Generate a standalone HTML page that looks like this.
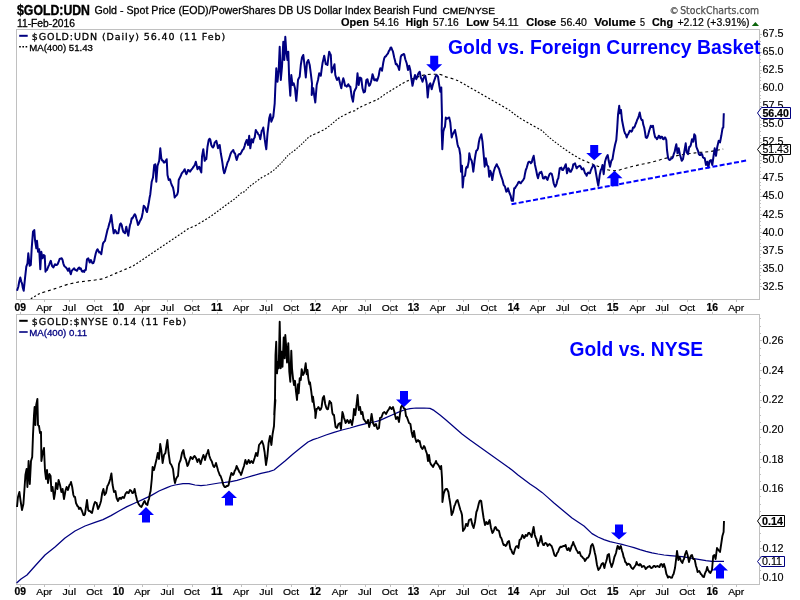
<!DOCTYPE html>
<html lang="en"><head><meta charset="utf-8"><title>$GOLD:UDN - StockCharts.com</title>
<style>html,body{margin:0;padding:0;background:#fff;overflow:hidden}body{width:800px;height:600px;font-family:"Liberation Sans",Arial,sans-serif}</style>
</head><body>
<svg width="800" height="600" viewBox="0 0 800 600" style="display:block;will-change:transform" font-family="Liberation Sans, Arial, Helvetica, sans-serif">
<rect x="0" y="0" width="800" height="600" fill="#fff"/>
<rect x="16.5" y="29.5" width="743.0" height="270.0" fill="none" stroke="#c0c0c0" stroke-width="1"/>
<rect x="16.5" y="314.5" width="743.0" height="270.0" fill="none" stroke="#c0c0c0" stroke-width="1"/>
<path d="M20.5 299.5v2.5 M20.5 314.5v-2.5 M20.5 584.5v2.5 M44.5 299.5v2.5 M44.5 314.5v-2.5 M44.5 584.5v2.5 M69.5 299.5v2.5 M69.5 314.5v-2.5 M69.5 584.5v2.5 M94.5 299.5v2.5 M94.5 314.5v-2.5 M94.5 584.5v2.5 M118.5 299.5v2.5 M118.5 314.5v-2.5 M118.5 584.5v2.5 M142.5 299.5v2.5 M142.5 314.5v-2.5 M142.5 584.5v2.5 M167.5 299.5v2.5 M167.5 314.5v-2.5 M167.5 584.5v2.5 M192.5 299.5v2.5 M192.5 314.5v-2.5 M192.5 584.5v2.5 M217.5 299.5v2.5 M217.5 314.5v-2.5 M217.5 584.5v2.5 M241.5 299.5v2.5 M241.5 314.5v-2.5 M241.5 584.5v2.5 M266.5 299.5v2.5 M266.5 314.5v-2.5 M266.5 584.5v2.5 M291.5 299.5v2.5 M291.5 314.5v-2.5 M291.5 584.5v2.5 M315.5 299.5v2.5 M315.5 314.5v-2.5 M315.5 584.5v2.5 M340.5 299.5v2.5 M340.5 314.5v-2.5 M340.5 584.5v2.5 M365.5 299.5v2.5 M365.5 314.5v-2.5 M365.5 584.5v2.5 M390.5 299.5v2.5 M390.5 314.5v-2.5 M390.5 584.5v2.5 M413.5 299.5v2.5 M413.5 314.5v-2.5 M413.5 584.5v2.5 M438.5 299.5v2.5 M438.5 314.5v-2.5 M438.5 584.5v2.5 M463.5 299.5v2.5 M463.5 314.5v-2.5 M463.5 584.5v2.5 M488.5 299.5v2.5 M488.5 314.5v-2.5 M488.5 584.5v2.5 M513.5 299.5v2.5 M513.5 314.5v-2.5 M513.5 584.5v2.5 M538.5 299.5v2.5 M538.5 314.5v-2.5 M538.5 584.5v2.5 M563.5 299.5v2.5 M563.5 314.5v-2.5 M563.5 584.5v2.5 M588.5 299.5v2.5 M588.5 314.5v-2.5 M588.5 584.5v2.5 M613.5 299.5v2.5 M613.5 314.5v-2.5 M613.5 584.5v2.5 M637.5 299.5v2.5 M637.5 314.5v-2.5 M637.5 584.5v2.5 M662.5 299.5v2.5 M662.5 314.5v-2.5 M662.5 584.5v2.5 M687.5 299.5v2.5 M687.5 314.5v-2.5 M687.5 584.5v2.5 M712.5 299.5v2.5 M712.5 314.5v-2.5 M712.5 584.5v2.5 M736.5 299.5v2.5 M736.5 314.5v-2.5 M736.5 584.5v2.5 M759.5 286.5h2.5 M759.5 283.5h1.5 M759.5 279.5h1.5 M759.5 275.5h1.5 M759.5 272.5h1.5 M759.5 268.5h2.5 M759.5 265.5h1.5 M759.5 261.5h1.5 M759.5 257.5h1.5 M759.5 254.5h1.5 M759.5 250.5h2.5 M759.5 246.5h1.5 M759.5 243.5h1.5 M759.5 239.5h1.5 M759.5 236.5h1.5 M759.5 232.5h2.5 M759.5 228.5h1.5 M759.5 225.5h1.5 M759.5 221.5h1.5 M759.5 218.5h1.5 M759.5 214.5h2.5 M759.5 210.5h1.5 M759.5 207.5h1.5 M759.5 203.5h1.5 M759.5 200.5h1.5 M759.5 196.5h2.5 M759.5 192.5h1.5 M759.5 189.5h1.5 M759.5 185.5h1.5 M759.5 182.5h1.5 M759.5 178.5h2.5 M759.5 174.5h1.5 M759.5 171.5h1.5 M759.5 167.5h1.5 M759.5 163.5h1.5 M759.5 160.5h2.5 M759.5 156.5h1.5 M759.5 153.5h1.5 M759.5 149.5h1.5 M759.5 145.5h1.5 M759.5 142.5h2.5 M759.5 138.5h1.5 M759.5 135.5h1.5 M759.5 131.5h1.5 M759.5 127.5h1.5 M759.5 124.5h2.5 M759.5 120.5h1.5 M759.5 117.5h1.5 M759.5 113.5h1.5 M759.5 109.5h1.5 M759.5 106.5h2.5 M759.5 102.5h1.5 M759.5 98.5h1.5 M759.5 95.5h1.5 M759.5 91.5h1.5 M759.5 88.5h2.5 M759.5 84.5h1.5 M759.5 80.5h1.5 M759.5 77.5h1.5 M759.5 73.5h1.5 M759.5 70.5h2.5 M759.5 66.5h1.5 M759.5 62.5h1.5 M759.5 59.5h1.5 M759.5 55.5h1.5 M759.5 52.5h2.5 M759.5 48.5h1.5 M759.5 44.5h1.5 M759.5 41.5h1.5 M759.5 37.5h1.5 M759.5 34.5h2.5 M759.5 578.5h2.5 M759.5 570.5h1.5 M759.5 563.5h1.5 M759.5 556.5h1.5 M759.5 548.5h2.5 M759.5 541.5h1.5 M759.5 533.5h1.5 M759.5 526.5h1.5 M759.5 518.5h2.5 M759.5 511.5h1.5 M759.5 504.5h1.5 M759.5 496.5h1.5 M759.5 489.5h2.5 M759.5 481.5h1.5 M759.5 474.5h1.5 M759.5 467.5h1.5 M759.5 459.5h2.5 M759.5 452.5h1.5 M759.5 444.5h1.5 M759.5 437.5h1.5 M759.5 429.5h2.5 M759.5 422.5h1.5 M759.5 415.5h1.5 M759.5 407.5h1.5 M759.5 400.5h2.5 M759.5 392.5h1.5 M759.5 385.5h1.5 M759.5 378.5h1.5 M759.5 370.5h2.5 M759.5 363.5h1.5 M759.5 355.5h1.5 M759.5 348.5h1.5 M759.5 340.5h2.5 M759.5 333.5h1.5 M759.5 326.5h1.5 M759.5 318.5h1.5" stroke="#c0c0c0" stroke-width="1" fill="none"/>
<text x="762.5" y="289.7" font-size="10" stroke="#000" stroke-width="0.15" textLength="21" lengthAdjust="spacingAndGlyphs">32.5</text>
<text x="762.5" y="271.6" font-size="10" stroke="#000" stroke-width="0.15" textLength="21" lengthAdjust="spacingAndGlyphs">35.0</text>
<text x="762.5" y="253.6" font-size="10" stroke="#000" stroke-width="0.15" textLength="21" lengthAdjust="spacingAndGlyphs">37.5</text>
<text x="762.5" y="235.5" font-size="10" stroke="#000" stroke-width="0.15" textLength="21" lengthAdjust="spacingAndGlyphs">40.0</text>
<text x="762.5" y="217.5" font-size="10" stroke="#000" stroke-width="0.15" textLength="21" lengthAdjust="spacingAndGlyphs">42.5</text>
<text x="762.5" y="199.4" font-size="10" stroke="#000" stroke-width="0.15" textLength="21" lengthAdjust="spacingAndGlyphs">45.0</text>
<text x="762.5" y="181.4" font-size="10" stroke="#000" stroke-width="0.15" textLength="21" lengthAdjust="spacingAndGlyphs">47.5</text>
<text x="762.5" y="163.3" font-size="10" stroke="#000" stroke-width="0.15" textLength="21" lengthAdjust="spacingAndGlyphs">50.0</text>
<text x="762.5" y="145.3" font-size="10" stroke="#000" stroke-width="0.15" textLength="21" lengthAdjust="spacingAndGlyphs">52.5</text>
<text x="762.5" y="127.2" font-size="10" stroke="#000" stroke-width="0.15" textLength="21" lengthAdjust="spacingAndGlyphs">55.0</text>
<text x="762.5" y="109.2" font-size="10" stroke="#000" stroke-width="0.15" textLength="21" lengthAdjust="spacingAndGlyphs">57.5</text>
<text x="762.5" y="91.2" font-size="10" stroke="#000" stroke-width="0.15" textLength="21" lengthAdjust="spacingAndGlyphs">60.0</text>
<text x="762.5" y="73.1" font-size="10" stroke="#000" stroke-width="0.15" textLength="21" lengthAdjust="spacingAndGlyphs">62.5</text>
<text x="762.5" y="55.0" font-size="10" stroke="#000" stroke-width="0.15" textLength="21" lengthAdjust="spacingAndGlyphs">65.0</text>
<text x="762.5" y="37.0" font-size="10" stroke="#000" stroke-width="0.15" textLength="21" lengthAdjust="spacingAndGlyphs">67.5</text>
<text x="762.5" y="581.3" font-size="10" stroke="#000" stroke-width="0.15" textLength="21" lengthAdjust="spacingAndGlyphs">0.10</text>
<text x="762.5" y="551.6" font-size="10" stroke="#000" stroke-width="0.15" textLength="21" lengthAdjust="spacingAndGlyphs">0.12</text>
<text x="762.5" y="492.3" font-size="10" stroke="#000" stroke-width="0.15" textLength="21" lengthAdjust="spacingAndGlyphs">0.16</text>
<text x="762.5" y="462.6" font-size="10" stroke="#000" stroke-width="0.15" textLength="21" lengthAdjust="spacingAndGlyphs">0.18</text>
<text x="762.5" y="433.0" font-size="10" stroke="#000" stroke-width="0.15" textLength="21" lengthAdjust="spacingAndGlyphs">0.20</text>
<text x="762.5" y="403.3" font-size="10" stroke="#000" stroke-width="0.15" textLength="21" lengthAdjust="spacingAndGlyphs">0.22</text>
<text x="762.5" y="373.7" font-size="10" stroke="#000" stroke-width="0.15" textLength="21" lengthAdjust="spacingAndGlyphs">0.24</text>
<text x="762.5" y="344.0" font-size="10" stroke="#000" stroke-width="0.15" textLength="21" lengthAdjust="spacingAndGlyphs">0.26</text>
<text x="14.5" y="310.8" font-size="10" font-weight="bold" stroke="#000" stroke-width="0.2" textLength="11.5" lengthAdjust="spacingAndGlyphs">09</text>
<text x="44.3" y="310.8" font-size="9.8" stroke="#000" stroke-width="0.2" text-anchor="middle" textLength="16" lengthAdjust="spacingAndGlyphs">Apr</text>
<text x="69.3" y="310.8" font-size="9.8" stroke="#000" stroke-width="0.2" text-anchor="middle" textLength="13.5" lengthAdjust="spacingAndGlyphs">Jul</text>
<text x="94.3" y="310.8" font-size="9.8" stroke="#000" stroke-width="0.2" text-anchor="middle" textLength="16" lengthAdjust="spacingAndGlyphs">Oct</text>
<text x="118.5" y="310.8" font-size="10" font-weight="bold" stroke="#000" stroke-width="0.2" text-anchor="middle" textLength="11.5" lengthAdjust="spacingAndGlyphs">10</text>
<text x="142.3" y="310.8" font-size="9.8" stroke="#000" stroke-width="0.2" text-anchor="middle" textLength="16" lengthAdjust="spacingAndGlyphs">Apr</text>
<text x="167.3" y="310.8" font-size="9.8" stroke="#000" stroke-width="0.2" text-anchor="middle" textLength="13.5" lengthAdjust="spacingAndGlyphs">Jul</text>
<text x="191.8" y="310.8" font-size="9.8" stroke="#000" stroke-width="0.2" text-anchor="middle" textLength="16" lengthAdjust="spacingAndGlyphs">Oct</text>
<text x="216.8" y="310.8" font-size="10" font-weight="bold" stroke="#000" stroke-width="0.2" text-anchor="middle" textLength="11.5" lengthAdjust="spacingAndGlyphs">11</text>
<text x="241.1" y="310.8" font-size="9.8" stroke="#000" stroke-width="0.2" text-anchor="middle" textLength="16" lengthAdjust="spacingAndGlyphs">Apr</text>
<text x="266.1" y="310.8" font-size="9.8" stroke="#000" stroke-width="0.2" text-anchor="middle" textLength="13.5" lengthAdjust="spacingAndGlyphs">Jul</text>
<text x="291.1" y="310.8" font-size="9.8" stroke="#000" stroke-width="0.2" text-anchor="middle" textLength="16" lengthAdjust="spacingAndGlyphs">Oct</text>
<text x="315.3" y="310.8" font-size="10" font-weight="bold" stroke="#000" stroke-width="0.2" text-anchor="middle" textLength="11.5" lengthAdjust="spacingAndGlyphs">12</text>
<text x="339.8" y="310.8" font-size="9.8" stroke="#000" stroke-width="0.2" text-anchor="middle" textLength="16" lengthAdjust="spacingAndGlyphs">Apr</text>
<text x="364.8" y="310.8" font-size="9.8" stroke="#000" stroke-width="0.2" text-anchor="middle" textLength="13.5" lengthAdjust="spacingAndGlyphs">Jul</text>
<text x="389.8" y="310.8" font-size="9.8" stroke="#000" stroke-width="0.2" text-anchor="middle" textLength="16" lengthAdjust="spacingAndGlyphs">Oct</text>
<text x="413.6" y="310.8" font-size="10" font-weight="bold" stroke="#000" stroke-width="0.2" text-anchor="middle" textLength="11.5" lengthAdjust="spacingAndGlyphs">13</text>
<text x="437.8" y="310.8" font-size="9.8" stroke="#000" stroke-width="0.2" text-anchor="middle" textLength="16" lengthAdjust="spacingAndGlyphs">Apr</text>
<text x="462.8" y="310.8" font-size="9.8" stroke="#000" stroke-width="0.2" text-anchor="middle" textLength="13.5" lengthAdjust="spacingAndGlyphs">Jul</text>
<text x="488.6" y="310.8" font-size="9.8" stroke="#000" stroke-width="0.2" text-anchor="middle" textLength="16" lengthAdjust="spacingAndGlyphs">Oct</text>
<text x="513.5" y="310.8" font-size="10" font-weight="bold" stroke="#000" stroke-width="0.2" text-anchor="middle" textLength="11.5" lengthAdjust="spacingAndGlyphs">14</text>
<text x="537.8" y="310.8" font-size="9.8" stroke="#000" stroke-width="0.2" text-anchor="middle" textLength="16" lengthAdjust="spacingAndGlyphs">Apr</text>
<text x="562.8" y="310.8" font-size="9.8" stroke="#000" stroke-width="0.2" text-anchor="middle" textLength="13.5" lengthAdjust="spacingAndGlyphs">Jul</text>
<text x="588.2" y="310.8" font-size="9.8" stroke="#000" stroke-width="0.2" text-anchor="middle" textLength="16" lengthAdjust="spacingAndGlyphs">Oct</text>
<text x="612.8" y="310.8" font-size="10" font-weight="bold" stroke="#000" stroke-width="0.2" text-anchor="middle" textLength="11.5" lengthAdjust="spacingAndGlyphs">15</text>
<text x="637.4" y="310.8" font-size="9.8" stroke="#000" stroke-width="0.2" text-anchor="middle" textLength="16" lengthAdjust="spacingAndGlyphs">Apr</text>
<text x="662.2" y="310.8" font-size="9.8" stroke="#000" stroke-width="0.2" text-anchor="middle" textLength="13.5" lengthAdjust="spacingAndGlyphs">Jul</text>
<text x="687.2" y="310.8" font-size="9.8" stroke="#000" stroke-width="0.2" text-anchor="middle" textLength="16" lengthAdjust="spacingAndGlyphs">Oct</text>
<text x="712.2" y="310.8" font-size="10" font-weight="bold" stroke="#000" stroke-width="0.2" text-anchor="middle" textLength="11.5" lengthAdjust="spacingAndGlyphs">16</text>
<text x="736.2" y="310.8" font-size="9.8" stroke="#000" stroke-width="0.2" text-anchor="middle" textLength="16" lengthAdjust="spacingAndGlyphs">Apr</text>
<text x="14.5" y="595.2" font-size="10" font-weight="bold" stroke="#000" stroke-width="0.2" textLength="11.5" lengthAdjust="spacingAndGlyphs">09</text>
<text x="44.3" y="595.2" font-size="9.8" stroke="#000" stroke-width="0.2" text-anchor="middle" textLength="16" lengthAdjust="spacingAndGlyphs">Apr</text>
<text x="69.3" y="595.2" font-size="9.8" stroke="#000" stroke-width="0.2" text-anchor="middle" textLength="13.5" lengthAdjust="spacingAndGlyphs">Jul</text>
<text x="94.3" y="595.2" font-size="9.8" stroke="#000" stroke-width="0.2" text-anchor="middle" textLength="16" lengthAdjust="spacingAndGlyphs">Oct</text>
<text x="118.5" y="595.2" font-size="10" font-weight="bold" stroke="#000" stroke-width="0.2" text-anchor="middle" textLength="11.5" lengthAdjust="spacingAndGlyphs">10</text>
<text x="142.3" y="595.2" font-size="9.8" stroke="#000" stroke-width="0.2" text-anchor="middle" textLength="16" lengthAdjust="spacingAndGlyphs">Apr</text>
<text x="167.3" y="595.2" font-size="9.8" stroke="#000" stroke-width="0.2" text-anchor="middle" textLength="13.5" lengthAdjust="spacingAndGlyphs">Jul</text>
<text x="191.8" y="595.2" font-size="9.8" stroke="#000" stroke-width="0.2" text-anchor="middle" textLength="16" lengthAdjust="spacingAndGlyphs">Oct</text>
<text x="216.8" y="595.2" font-size="10" font-weight="bold" stroke="#000" stroke-width="0.2" text-anchor="middle" textLength="11.5" lengthAdjust="spacingAndGlyphs">11</text>
<text x="241.1" y="595.2" font-size="9.8" stroke="#000" stroke-width="0.2" text-anchor="middle" textLength="16" lengthAdjust="spacingAndGlyphs">Apr</text>
<text x="266.1" y="595.2" font-size="9.8" stroke="#000" stroke-width="0.2" text-anchor="middle" textLength="13.5" lengthAdjust="spacingAndGlyphs">Jul</text>
<text x="291.1" y="595.2" font-size="9.8" stroke="#000" stroke-width="0.2" text-anchor="middle" textLength="16" lengthAdjust="spacingAndGlyphs">Oct</text>
<text x="315.3" y="595.2" font-size="10" font-weight="bold" stroke="#000" stroke-width="0.2" text-anchor="middle" textLength="11.5" lengthAdjust="spacingAndGlyphs">12</text>
<text x="339.8" y="595.2" font-size="9.8" stroke="#000" stroke-width="0.2" text-anchor="middle" textLength="16" lengthAdjust="spacingAndGlyphs">Apr</text>
<text x="364.8" y="595.2" font-size="9.8" stroke="#000" stroke-width="0.2" text-anchor="middle" textLength="13.5" lengthAdjust="spacingAndGlyphs">Jul</text>
<text x="389.8" y="595.2" font-size="9.8" stroke="#000" stroke-width="0.2" text-anchor="middle" textLength="16" lengthAdjust="spacingAndGlyphs">Oct</text>
<text x="413.6" y="595.2" font-size="10" font-weight="bold" stroke="#000" stroke-width="0.2" text-anchor="middle" textLength="11.5" lengthAdjust="spacingAndGlyphs">13</text>
<text x="437.8" y="595.2" font-size="9.8" stroke="#000" stroke-width="0.2" text-anchor="middle" textLength="16" lengthAdjust="spacingAndGlyphs">Apr</text>
<text x="462.8" y="595.2" font-size="9.8" stroke="#000" stroke-width="0.2" text-anchor="middle" textLength="13.5" lengthAdjust="spacingAndGlyphs">Jul</text>
<text x="488.6" y="595.2" font-size="9.8" stroke="#000" stroke-width="0.2" text-anchor="middle" textLength="16" lengthAdjust="spacingAndGlyphs">Oct</text>
<text x="513.5" y="595.2" font-size="10" font-weight="bold" stroke="#000" stroke-width="0.2" text-anchor="middle" textLength="11.5" lengthAdjust="spacingAndGlyphs">14</text>
<text x="537.8" y="595.2" font-size="9.8" stroke="#000" stroke-width="0.2" text-anchor="middle" textLength="16" lengthAdjust="spacingAndGlyphs">Apr</text>
<text x="562.8" y="595.2" font-size="9.8" stroke="#000" stroke-width="0.2" text-anchor="middle" textLength="13.5" lengthAdjust="spacingAndGlyphs">Jul</text>
<text x="588.2" y="595.2" font-size="9.8" stroke="#000" stroke-width="0.2" text-anchor="middle" textLength="16" lengthAdjust="spacingAndGlyphs">Oct</text>
<text x="612.8" y="595.2" font-size="10" font-weight="bold" stroke="#000" stroke-width="0.2" text-anchor="middle" textLength="11.5" lengthAdjust="spacingAndGlyphs">15</text>
<text x="637.4" y="595.2" font-size="9.8" stroke="#000" stroke-width="0.2" text-anchor="middle" textLength="16" lengthAdjust="spacingAndGlyphs">Apr</text>
<text x="662.2" y="595.2" font-size="9.8" stroke="#000" stroke-width="0.2" text-anchor="middle" textLength="13.5" lengthAdjust="spacingAndGlyphs">Jul</text>
<text x="687.2" y="595.2" font-size="9.8" stroke="#000" stroke-width="0.2" text-anchor="middle" textLength="16" lengthAdjust="spacingAndGlyphs">Oct</text>
<text x="712.2" y="595.2" font-size="10" font-weight="bold" stroke="#000" stroke-width="0.2" text-anchor="middle" textLength="11.5" lengthAdjust="spacingAndGlyphs">16</text>
<text x="736.2" y="595.2" font-size="9.8" stroke="#000" stroke-width="0.2" text-anchor="middle" textLength="16" lengthAdjust="spacingAndGlyphs">Apr</text>
<path d="M30.8 298.7L32.5 297.7M34.2 296.7L35.9 295.7M37.8 294.6L39.8 293.4M42.3 292.6L45.2 291.8M48.0 290.9L50.8 290.0M53.6 289.1L56.3 288.2M59.2 287.2L62.0 286.3M64.7 285.4L67.6 284.4M70.4 283.7L73.3 283.1M76.2 282.5L79.0 281.9M82.0 281.6L84.9 281.2M87.8 280.9L90.8 280.5M93.7 280.2L96.7 279.8M99.6 279.4L102.4 278.9M105.2 277.7L107.7 276.7M110.1 275.7L112.5 274.7M114.9 273.6L117.3 272.6M119.6 271.7L122.0 270.7M124.4 269.6L126.8 268.7M129.1 267.7L131.2 266.7M133.1 265.9L134.8 264.8M136.4 263.8L138.0 262.7M139.5 261.7L140.9 260.7M142.4 259.7L143.9 258.7M145.4 257.7L146.9 256.7M148.3 255.7L149.8 254.7M151.3 253.7L152.7 252.7M154.2 251.7L155.7 250.7M157.2 249.7L158.6 248.7M160.1 247.7L161.6 246.7M163.1 245.7L164.6 244.7M166.1 243.7L167.5 242.7M169.0 241.7L170.5 240.7M172.0 239.7L173.5 238.7M175.0 237.7L176.4 236.7M177.9 235.7L179.4 234.7M180.9 233.7L182.4 232.7M183.9 231.7L185.3 230.7M186.9 229.6L188.7 228.5M190.6 227.7L192.7 226.8M194.8 225.9L196.7 224.9M198.5 223.8L200.3 222.8M202.0 221.8L203.7 220.8M205.3 219.8L206.9 218.8M208.5 217.9L210.0 216.8M211.5 215.8L212.9 214.8M214.3 213.8L215.7 212.8M217.0 211.8L218.4 210.8M219.7 209.8L221.0 208.8M222.4 207.8L223.8 206.8M225.0 205.8L226.4 204.8M227.8 203.8L229.2 202.8M230.6 201.8L232.0 200.8M233.3 199.9L234.6 199.0M235.8 197.9L236.9 196.9M238.0 195.9L239.2 194.8M240.5 193.6L241.7 192.5M243.1 192.1L244.7 191.7M245.7 190.5L246.7 189.3M247.7 188.2L248.8 187.1M250.0 186.2L251.2 185.3M252.5 184.4L253.9 183.3M255.2 182.4L256.5 181.4M257.9 180.3L259.3 179.3M260.7 178.2L262.2 177.2M264.0 176.3L265.7 175.5M267.5 174.6L269.1 173.6M270.5 172.5L271.9 171.5M273.2 170.6L274.4 169.6M275.6 168.6L276.6 167.5M277.6 166.5L278.7 165.5M279.6 164.6L280.6 163.6M281.6 162.6L282.5 161.5M283.4 160.6L284.3 159.5M285.2 158.5L286.1 157.5M287.1 156.4L288.0 155.4M289.1 154.4L290.3 153.5M291.5 152.6L292.8 151.6M294.1 150.7L295.4 149.7M296.6 148.6L297.7 147.6M298.9 146.6L300.0 145.6M301.1 144.6L302.2 143.7M303.2 142.6L304.2 141.6M305.2 140.6L306.3 139.6M307.3 138.5L308.5 137.4M309.9 136.5L311.4 135.5M313.2 134.7L315.4 133.8M317.5 132.9L319.7 131.8M321.7 130.8L323.5 129.9M325.2 129.0L326.7 127.9M328.1 126.9L329.4 125.9M330.7 124.9L332.0 123.9M333.1 122.9L334.3 121.8M335.5 120.8L336.7 119.7M338.0 118.7L339.4 117.8M341.1 116.8L342.7 115.9M344.6 114.9L346.5 113.9M348.6 112.9L350.9 111.7M353.1 111.1L355.2 110.7M356.8 109.3L358.4 108.0M360.3 107.1L362.2 106.3M364.4 105.3L366.6 104.3M368.8 103.3L371.0 102.3M373.3 101.3L375.5 100.4M377.4 99.6L379.1 98.6M380.6 97.5L382.0 96.4M383.4 95.4L384.8 94.3M386.4 93.3L387.8 92.4M389.4 91.4L391.1 90.4M392.6 89.4L394.2 88.4M395.9 87.4L397.5 86.4M399.1 85.4L400.9 84.4M402.6 83.4L404.6 82.3M406.6 81.3L408.8 80.4M411.2 79.4L413.7 78.4M416.5 77.4L419.2 76.4M422.0 75.6L424.8 74.7M427.8 74.5L430.8 74.2M433.7 74.2L436.6 74.2M439.5 74.3L442.4 75.1M444.9 76.6L447.7 77.4M450.6 78.1L453.4 79.0M456.0 80.0L458.2 80.8M460.3 81.9L462.1 83.0M463.9 84.0L465.6 85.0M467.3 86.0L469.1 87.0M470.8 88.0L472.5 89.0M474.4 90.0L476.1 91.0M477.8 92.0L479.6 93.0M481.3 94.0L483.0 95.0M484.8 96.0L486.5 97.0M488.3 98.0L490.0 99.0M491.7 100.0L493.5 101.0M495.3 102.0L497.0 103.0M498.8 104.0L500.5 105.0M502.2 106.0L504.0 107.0M505.7 108.0L507.3 108.9M508.9 109.9L510.3 110.9M511.6 112.0L513.0 113.0M514.2 114.0L515.6 115.1M517.0 116.0L518.4 117.0M519.9 118.0L521.5 119.1M523.2 120.0L524.8 121.0M526.6 122.0L528.3 123.0M530.1 124.0L531.9 125.0M533.7 125.9L535.5 127.0M537.4 128.0L539.0 128.9M540.5 129.7L542.0 130.6M543.1 131.7L544.3 132.8M545.4 133.9L546.4 134.9M547.5 135.9L548.6 136.9M549.8 137.9L551.1 138.9M552.3 139.9L553.6 140.9M554.8 141.9L556.1 142.8M557.5 143.9L558.8 144.8M560.1 145.9L561.5 146.9M562.9 147.9L564.3 148.8M565.7 149.8L567.2 150.9M568.7 151.9L570.2 152.8M571.8 153.9L573.5 154.9M575.1 155.9L576.8 156.8M578.5 157.9L580.4 158.9M582.3 159.9L584.4 160.8M586.8 161.8L589.3 162.9M591.8 163.8L594.2 164.7M596.6 165.7L599.1 166.8M601.6 168.0L604.4 168.8M607.2 169.7L610.1 170.3M613.0 170.8L615.9 170.6M618.8 170.2L621.7 169.3M624.5 168.5L627.4 167.7M630.2 167.0L633.0 166.3M636.0 165.6L638.8 164.9M641.7 164.3L644.6 163.7M647.5 163.1L650.4 162.5M653.2 161.8L656.1 161.0M658.9 160.2L661.7 159.3M664.5 158.5L667.4 157.9M670.3 157.3L673.2 156.6M676.1 155.9L678.9 155.2M681.8 154.7L684.7 154.2M687.7 153.8L690.6 153.5M693.6 153.1L696.4 152.7M699.3 152.4L702.4 152.2M705.3 152.0L708.2 151.7M711.2 151.4L714.1 150.9M716.9 150.3L719.8 149.7M722.7 149.1L723.2 149.0" fill="none" stroke="#000" stroke-width="1.15"/>
<polyline points="17.0,290.8 18.3,286.7 19.3,281.2 20.3,277.5 21.2,281.3 22.0,283.3 22.8,287.7 23.7,290.8 25.0,278.3 26.3,266.7 27.5,263.3 28.3,253.3 29.7,265.8 30.8,265.0 31.7,248.3 33.0,231.7 34.3,230.0 35.0,240.0 36.3,248.3 37.0,240.8 38.0,251.7 39.2,249.2 40.3,269.2 41.3,251.7 42.5,258.3 43.7,255.0 44.7,255.8 45.5,271.7 46.2,270.2 47.0,270.0 48.3,266.7 49.2,264.6 50.0,262.5 50.8,260.8 52.0,265.8 53.3,267.5 54.2,265.7 55.0,264.2 55.8,264.9 56.7,265.0 57.7,264.0 58.7,261.7 59.5,259.2 60.3,258.7 61.7,258.3 62.5,259.7 63.3,263.3 64.2,265.8 65.0,266.7 65.8,267.3 66.7,268.3 68.0,270.8 69.2,268.3 70.0,271.9 70.8,274.2 71.7,270.9 72.5,270.0 73.3,269.0 74.2,268.3 75.0,269.7 75.8,270.0 77.0,270.8 78.1,268.5 79.2,267.5 80.0,269.0 80.8,268.3 81.7,271.0 82.5,271.7 83.3,270.7 84.2,272.0 85.0,269.9 85.8,270.0 87.0,259.2 88.3,258.3 89.7,262.5 90.8,260.0 91.7,261.8 92.5,263.3 93.3,263.1 94.2,260.8 95.0,256.8 95.8,253.3 96.7,250.6 97.5,249.2 98.3,250.6 99.2,252.5 100.2,252.2 101.3,254.2 102.2,248.1 103.0,243.3 104.0,241.9 105.0,240.8 105.8,237.1 106.7,233.3 107.5,229.8 108.3,227.5 109.2,223.9 110.0,221.7 111.3,215.0 112.5,225.0 113.7,233.3 115.0,230.0 115.8,231.0 116.7,233.3 117.5,233.2 118.3,233.3 119.2,228.2 120.0,224.2 120.8,223.4 121.7,225.0 122.5,229.1 123.3,231.7 124.2,232.6 125.0,233.3 126.3,226.7 127.3,231.6 128.3,235.8 129.2,229.7 130.0,225.0 130.8,222.8 131.7,218.3 132.5,218.4 133.3,216.7 134.7,214.2 135.5,215.3 136.3,218.3 137.2,221.3 138.0,225.0 139.0,223.4 140.0,220.8 140.8,219.7 141.7,217.5 142.7,212.7 143.7,205.8 144.5,206.5 145.3,207.5 146.2,210.5 147.0,212.0 147.8,208.1 148.7,203.3 149.5,198.3 150.3,194.2 151.7,181.7 153.0,177.5 154.2,165.0 155.3,164.2 156.3,181.7 157.5,165.8 158.3,163.5 159.2,160.8 160.3,148.3 161.3,158.3 162.2,160.5 163.0,160.8 163.8,162.5 164.7,162.5 165.7,160.8 166.7,159.2 167.5,175.0 168.7,180.0 170.0,179.2 170.8,182.3 171.7,185.0 173.0,187.5 173.8,191.4 174.7,197.5 175.5,196.0 176.3,195.8 177.2,194.5 178.0,191.7 178.7,180.0 179.8,177.7 180.8,175.8 181.7,173.4 182.5,172.5 183.6,171.0 184.7,169.2 185.5,172.2 186.3,174.2 187.2,172.5 188.0,170.0 189.0,170.5 190.0,171.7 191.2,169.9 192.5,168.3 193.3,167.1 194.2,165.8 195.0,164.4 195.8,161.7 196.7,165.5 197.5,169.2 198.3,167.7 199.2,166.7 200.2,169.6 201.3,172.5 202.0,156.7 203.3,149.2 204.7,160.8 205.5,158.9 206.3,159.2 207.5,146.7 208.7,140.0 209.5,138.7 210.3,139.7 211.3,145.0 212.2,146.7 213.0,147.5 213.8,146.2 214.7,142.5 215.5,141.9 216.3,140.8 217.2,144.3 218.0,148.3 218.8,145.9 219.7,145.0 220.8,153.3 221.7,158.3 222.5,163.3 223.3,169.5 224.2,173.3 225.0,171.5 225.8,168.3 226.7,165.5 227.5,162.5 228.6,160.4 229.7,156.7 230.7,153.5 231.7,151.7 232.5,150.9 233.3,150.0 234.2,152.8 235.0,153.3 235.8,156.9 236.7,160.0 237.5,157.4 238.3,155.0 239.3,154.0 240.3,154.2 241.4,152.2 242.5,150.0 243.6,149.0 244.7,145.8 245.3,143.3 246.7,140.0 248.0,145.0 249.2,135.8 250.3,148.3 251.7,139.2 253.0,142.5 253.8,138.8 254.7,137.5 255.8,130.0 256.7,131.9 257.5,132.5 258.3,134.5 259.2,135.0 260.3,139.2 261.7,130.8 262.5,130.1 263.3,127.5 264.7,139.2 265.5,144.7 266.3,149.2 267.5,133.3 268.3,126.6 269.2,118.3 270.3,114.2 271.3,121.7 272.3,119.2 273.3,116.7 274.7,103.3 275.3,88.3 276.3,68.3 277.5,81.7 278.7,70.0 279.7,46.7 280.8,80.0 282.0,66.7 283.3,41.7 284.3,60.0 285.3,36.7 286.3,51.7 287.5,60.0 288.3,51.7 289.2,80.0 290.3,95.8 291.3,75.0 292.5,85.0 293.7,83.3 295.0,88.3 296.3,100.8 297.2,90.6 298.0,80.0 298.8,78.2 299.7,76.7 300.8,65.0 302.0,57.5 303.3,55.0 304.7,66.7 305.8,77.5 307.0,62.5 308.3,60.0 309.7,65.0 310.8,73.3 312.0,83.3 311.7,95.0 312.5,90.6 313.3,88.3 314.3,96.3 315.3,102.5 316.7,85.0 318.0,80.0 319.2,73.3 320.0,74.8 320.8,75.8 321.7,68.9 322.5,63.3 323.3,59.6 324.2,55.8 325.0,60.0 325.8,64.2 326.7,64.2 327.5,65.0 328.3,58.0 329.2,51.7 330.0,53.4 330.8,55.0 331.7,72.5 333.0,68.3 333.8,66.5 334.5,64.2 335.3,75.0 336.2,77.8 337.0,80.0 337.8,78.6 338.7,77.5 340.0,83.3 341.3,88.3 342.3,82.2 343.3,78.3 344.2,81.4 345.0,85.8 345.8,85.5 346.7,86.7 347.5,85.6 348.3,84.2 349.3,86.3 350.3,86.7 351.7,96.7 353.0,101.7 354.2,91.7 355.0,90.0 356.3,87.5 357.5,73.3 358.7,85.0 360.0,77.5 361.3,78.3 362.5,88.3 363.7,92.5 365.0,91.7 366.3,80.0 367.5,79.2 368.3,83.2 369.2,85.8 370.0,84.9 370.8,82.5 371.7,79.1 372.5,74.2 373.3,76.5 374.2,80.0 375.0,80.4 375.8,79.2 377.0,80.8 377.8,78.7 378.7,75.8 379.5,71.1 380.3,68.3 381.2,68.4 382.0,70.8 383.3,62.5 384.2,58.4 385.0,56.7 385.8,56.4 386.7,55.0 388.0,53.3 388.8,51.1 389.7,50.0 390.5,47.8 391.3,47.5 392.2,49.9 393.0,51.7 394.2,57.5 395.0,60.5 395.8,64.2 396.7,64.0 397.5,65.8 398.3,67.1 399.2,70.0 400.0,63.4 400.8,56.7 401.7,55.0 402.5,55.0 403.3,54.0 404.2,54.2 405.3,59.2 406.7,63.3 408.0,70.0 409.2,65.8 410.3,70.0 411.3,78.3 412.5,85.8 413.7,80.0 415.0,75.0 416.3,79.2 417.2,77.2 418.0,74.2 418.8,72.8 419.7,71.7 420.8,77.5 421.7,79.2 422.5,81.7 423.3,79.1 424.2,76.7 425.3,75.8 426.7,83.3 427.7,97.5 428.4,90.1 429.2,85.0 430.3,83.3 431.7,89.2 432.5,86.0 433.3,83.3 434.2,80.6 435.0,78.3 435.8,75.9 436.7,75.0 438.0,76.7 439.2,85.0 440.3,91.7 441.3,87.5 442.0,116.7 441.7,130.0 442.3,149.2 443.3,131.7 444.2,128.2 445.0,126.7 445.8,117.5 446.7,118.9 447.5,118.3 448.3,117.9 449.2,117.5 450.3,122.5 451.7,137.5 452.5,134.7 453.3,133.3 454.2,131.9 455.0,130.0 456.3,136.7 457.5,144.2 458.3,147.0 459.2,148.3 460.3,155.0 461.0,171.7 462.0,165.8 462.7,187.5 463.7,176.7 465.0,175.8 466.0,168.3 466.8,166.8 467.5,167.5 468.7,161.7 469.3,153.3 470.3,158.3 471.7,160.8 472.5,165.1 473.3,171.7 474.7,160.0 475.5,154.6 476.3,150.8 477.2,150.1 478.0,148.3 478.8,142.5 479.7,138.3 480.5,136.7 481.3,134.2 482.5,141.7 483.7,155.0 484.7,166.7 485.8,158.3 487.0,165.0 488.3,166.7 489.2,176.7 490.3,170.8 491.3,173.3 492.3,180.0 493.7,171.7 495.0,167.5 495.8,166.3 496.7,164.2 497.5,165.9 498.3,167.5 499.2,169.3 500.0,172.5 501.3,176.7 502.5,180.0 503.7,185.0 505.0,186.7 506.3,191.7 507.2,191.1 508.0,188.3 509.3,192.5 510.7,195.8 511.7,200.8 513.0,200.8 514.2,188.3 515.0,188.2 515.8,186.7 516.7,185.5 517.5,184.2 518.3,182.3 519.2,181.7 520.0,182.9 520.8,183.3 521.7,181.8 522.5,180.8 523.3,179.8 524.2,178.3 525.0,173.7 525.8,170.0 526.7,167.8 527.5,165.0 528.3,162.3 529.2,161.7 530.0,162.0 530.8,163.3 531.7,162.4 532.5,159.2 533.7,155.8 535.0,165.0 536.3,170.8 537.2,175.5 538.0,178.3 538.8,175.0 539.7,172.5 540.5,172.9 541.3,171.7 542.2,174.5 543.0,178.3 544.0,178.6 545.0,176.7 545.8,176.7 546.7,178.9 547.5,180.0 548.3,177.3 549.2,175.0 550.0,173.6 550.8,173.3 551.7,173.8 552.5,176.7 553.7,183.3 555.0,186.7 555.8,185.9 556.7,183.3 557.5,179.7 558.3,178.3 559.7,168.3 560.5,168.7 561.3,167.5 562.2,169.9 563.0,170.0 563.8,168.5 564.7,166.7 565.8,164.2 567.0,173.3 568.3,168.3 569.2,169.2 570.0,171.7 570.8,171.7 571.7,170.0 572.5,168.2 573.3,164.2 574.2,164.2 575.0,163.3 575.8,165.9 576.7,168.3 577.5,167.2 578.3,166.7 579.2,165.9 580.0,165.8 580.8,166.8 581.7,169.2 582.5,169.2 583.3,168.3 584.2,170.7 585.0,173.3 585.8,173.8 586.7,175.8 587.5,173.2 588.3,172.5 589.2,173.3 590.0,173.3 590.8,170.3 591.7,168.3 592.5,166.7 593.3,165.0 594.2,165.8 595.0,167.5 596.3,175.0 597.5,181.7 598.3,185.8 599.7,175.0 600.8,170.0 601.7,168.4 602.5,165.0 603.7,174.2 605.0,161.7 606.3,157.5 607.7,155.0 608.7,160.8 610.0,166.7 611.3,160.8 612.5,159.2 613.7,151.7 615.0,145.0 616.3,140.0 617.2,128.3 618.0,115.0 619.2,105.8 620.0,113.3 621.0,110.0 622.0,120.0 623.3,126.7 624.2,131.0 625.0,133.3 625.8,134.3 626.7,137.5 627.5,135.1 628.3,134.2 629.7,130.8 630.5,130.8 631.3,131.7 632.2,130.8 633.0,127.5 633.8,127.8 634.7,126.7 635.5,124.2 636.3,122.5 637.2,119.7 638.0,118.3 638.8,115.8 639.7,112.5 640.8,118.3 641.7,120.0 642.5,120.0 643.3,124.8 644.2,127.5 645.0,132.1 645.8,137.5 646.7,138.0 647.5,136.7 648.3,134.2 649.2,130.8 650.0,128.3 650.8,125.8 651.9,127.0 653.0,125.8 654.2,133.3 655.0,136.7 655.3,137.5 656.2,137.7 657.0,139.2 657.8,138.0 658.7,135.8 659.5,136.1 660.3,138.3 661.2,136.7 662.0,136.7 662.8,138.9 663.7,139.2 664.5,137.6 665.3,137.5 666.3,140.0 667.0,150.0 668.0,157.5 668.8,159.4 669.7,160.0 670.5,159.4 671.3,158.3 672.2,158.3 673.0,156.7 673.8,153.9 674.7,151.7 675.5,147.5 676.3,144.2 677.5,153.3 678.7,148.3 680.0,155.0 680.8,157.4 681.7,160.8 683.0,159.2 684.3,151.7 685.7,143.3 686.7,152.5 688.0,154.2 689.3,146.7 690.1,146.7 690.8,145.0 692.0,139.2 693.3,141.7 694.3,134.2 695.3,135.8 696.3,146.7 697.2,149.0 698.0,150.8 698.8,154.0 699.7,155.0 700.5,155.1 701.3,153.3 702.2,154.5 703.0,157.5 703.8,158.0 704.7,158.3 706.0,165.0 707.3,161.7 708.3,167.5 709.7,160.8 711.0,160.0 712.3,165.0 713.7,155.0 714.7,148.3 716.0,155.8 717.3,146.7 718.7,140.8 720.0,142.5 721.3,135.8 722.5,128.3 723.3,127.5 723.8,113.3" fill="none" stroke="#000080" stroke-width="2" stroke-linejoin="round"/>
<line x1="511.5" y1="204.2" x2="747.5" y2="160.3" stroke="#0000ff" stroke-width="2" stroke-dasharray="5 2.3"/>
<polyline points="16.6,583.0 21.0,579.0 27.0,575.0 35.0,566.0 45.0,555.0 55.0,547.0 65.0,538.0 75.0,531.0 85.0,526.0 95.0,522.4 103.0,519.6 111.0,515.6 119.0,511.0 127.0,506.6 135.0,503.0 143.0,499.4 151.0,495.6 159.0,491.0 167.0,487.6 171.0,486.0 175.0,485.0 183.0,483.6 189.0,483.6 195.0,485.0 201.0,485.6 207.0,485.0 213.0,484.0 219.0,483.0 225.0,482.4 231.0,481.6 237.0,480.4 245.0,478.0 253.0,475.6 261.0,473.4 269.0,471.6 274.0,470.0 277.0,467.6 285.0,461.0 293.0,454.0 301.0,447.6 308.0,442.0 313.0,439.6 318.0,438.0 326.0,435.0 334.0,432.4 342.0,430.0 350.0,428.0 358.0,425.6 366.0,423.6 374.0,422.0 380.0,420.4 386.0,417.6 392.0,415.0 398.0,412.4 404.0,410.0 410.0,408.6 416.0,408.0 424.0,408.0 430.0,408.4 434.0,410.4 440.0,415.0 446.0,420.0 454.0,427.0 462.0,434.0 470.0,440.0 512.0,470.0 518.0,475.0 524.0,479.6 530.0,484.0 536.0,488.0 542.0,492.4 548.0,497.6 554.0,503.0 560.0,508.0 566.0,513.0 572.0,518.0 578.0,522.0 584.0,526.0 592.0,533.6 598.0,537.0 604.0,539.6 610.0,541.6 616.0,543.0 622.0,544.4 628.0,546.0 634.0,547.6 640.0,549.6 646.0,551.4 652.0,552.8 658.0,554.0 664.0,555.0 670.0,555.6 676.0,556.2 682.0,556.6 688.0,557.6 694.0,558.6 700.0,559.6 706.0,560.6 712.0,561.4 718.0,561.4 724.0,561.4" fill="none" stroke="#000080" stroke-width="1.25" stroke-linejoin="round"/>
<polyline points="17.0,507.0 18.0,497.0 19.4,492.0 20.6,501.0 22.0,510.0 23.4,504.0 24.6,487.0 25.4,475.0 26.6,469.0 27.4,487.0 28.6,461.0 29.8,484.0 31.0,461.0 32.2,457.0 33.0,435.0 34.0,415.0 34.6,407.0 35.4,425.0 36.2,405.0 37.4,399.0 38.0,425.0 39.0,426.0 40.0,433.0 41.0,432.0 41.4,461.0 42.6,453.0 44.0,448.0 45.0,471.0 46.0,479.0 47.0,470.0 48.0,483.0 49.4,474.0 50.6,476.0 51.4,491.0 52.6,487.0 54.0,499.0 55.0,493.0 56.0,483.0 57.4,489.0 58.6,480.0 60.0,485.0 61.4,492.0 62.6,489.0 64.0,499.0 65.4,491.0 66.6,487.0 68.0,490.0 69.4,485.0 70.2,484.4 71.0,482.0 72.2,487.0 73.4,495.0 74.2,496.9 75.0,497.0 76.0,503.0 77.4,506.0 78.2,506.6 79.0,509.0 79.8,507.7 80.6,508.0 82.0,511.0 83.4,515.0 84.2,515.2 85.0,514.0 86.0,507.0 87.0,500.0 88.2,510.0 89.1,511.0 90.0,511.0 91.0,512.3 92.0,513.0 93.4,507.0 94.2,504.1 95.0,502.0 95.8,502.7 96.6,503.0 98.0,509.0 99.4,506.0 100.2,503.7 101.0,501.0 102.2,493.0 103.4,489.0 104.6,495.0 106.0,493.0 107.4,486.0 108.2,484.7 109.0,483.0 110.2,479.0 111.4,473.4 112.6,485.0 114.0,492.0 115.4,491.0 116.6,498.0 118.0,501.0 119.4,498.0 120.2,497.8 121.0,499.0 121.8,497.9 122.6,497.0 124.0,498.0 125.4,494.0 126.2,492.8 127.0,492.0 127.8,492.9 128.6,493.0 130.0,490.0 131.4,491.0 132.2,493.0 133.0,493.0 133.8,491.9 134.6,489.0 135.8,495.0 137.0,500.0 137.8,502.1 138.6,504.0 140.0,506.0 141.4,507.0 142.2,505.4 143.0,504.0 143.8,502.0 144.6,501.0 146.0,504.0 147.4,505.0 148.2,501.1 149.0,499.0 149.8,494.1 150.6,491.0 151.8,479.0 152.6,467.0 154.0,470.0 155.4,464.0 156.6,459.0 157.8,453.0 159.0,459.0 160.2,444.0 161.4,451.0 162.6,463.0 164.0,455.0 165.4,453.0 166.6,445.0 167.4,440.0 168.6,453.0 170.0,463.0 171.4,465.0 172.2,466.9 173.0,469.0 174.2,479.0 175.0,483.0 176.0,479.0 177.0,477.1 178.0,476.0 179.0,464.0 179.8,461.8 180.6,460.0 182.0,453.0 183.4,450.0 184.6,457.0 186.0,460.0 187.4,466.0 188.2,464.8 189.0,462.0 189.8,459.6 190.6,457.0 191.6,458.1 192.6,459.0 193.6,457.0 194.6,456.0 196.0,458.0 197.4,462.0 198.2,459.5 199.0,459.0 199.8,461.2 200.6,464.0 202.0,459.0 203.4,455.0 204.2,456.8 205.0,460.0 205.8,457.0 206.6,454.0 207.4,453.0 208.2,450.0 209.4,456.0 210.2,458.3 211.0,460.0 211.8,461.4 212.6,464.0 213.4,466.3 214.2,467.0 215.1,465.6 216.0,463.0 217.4,468.0 218.2,471.0 219.0,473.0 219.8,475.3 220.6,476.0 222.0,480.0 223.4,485.0 224.6,487.0 225.6,487.0 226.6,486.0 227.6,486.1 228.6,485.0 230.0,478.0 231.4,473.0 232.2,473.7 233.0,475.0 233.8,474.0 234.6,471.0 235.6,469.4 236.6,466.0 238.0,469.0 239.4,472.0 240.2,472.8 241.0,475.0 241.8,473.0 242.6,470.0 244.0,466.0 245.4,460.0 246.2,462.4 247.0,464.0 247.8,461.9 248.6,460.0 250.0,463.0 251.4,461.0 252.2,462.1 253.0,463.0 253.8,460.5 254.6,458.0 256.0,453.0 257.4,456.0 258.2,451.3 259.0,445.0 259.8,444.0 260.6,443.0 262.0,441.0 263.4,445.0 264.6,452.0 266.0,465.0 267.4,456.0 268.6,443.0 270.0,436.0 271.4,445.0 272.6,434.0 274.0,426.0 274.6,412.0 275.4,400.0 274.2,415.0 275.0,398.3 275.5,355.0 276.2,341.7 277.0,373.3 278.0,361.7 278.7,368.3 279.7,321.7 280.7,368.3 281.7,351.7 282.5,366.7 283.7,337.5 284.7,358.3 285.3,335.0 286.3,348.3 287.0,362.5 288.3,343.3 289.3,371.7 290.3,381.7 291.3,350.8 292.0,368.3 293.0,378.3 294.0,385.0 295.0,380.8 296.0,391.7 297.0,400.0 298.0,384.2 298.7,393.3 299.7,378.3 300.8,380.0 301.7,369.2 303.0,375.0 304.3,372.5 305.7,363.3 306.7,374.2 307.5,370.0 308.3,378.3 309.3,384.2 310.0,382.5 311.3,391.7 312.5,401.7 313.0,396.7 314.2,405.8 315.3,412.5 315.4,418.0 316.6,409.0 317.5,408.7 318.4,407.0 319.2,408.2 320.0,410.0 320.8,409.3 321.6,407.0 322.8,398.0 324.0,396.0 325.2,404.0 326.4,408.0 327.2,409.3 328.0,409.0 328.8,404.9 329.6,401.0 330.4,402.1 331.2,403.0 332.4,413.0 333.2,414.8 334.0,415.0 334.8,421.4 335.6,427.0 337.0,428.0 338.4,424.0 339.2,423.5 340.0,423.0 341.0,429.0 342.4,412.0 343.2,414.4 344.0,418.0 344.8,420.1 345.6,423.0 346.4,421.9 347.2,420.0 348.0,420.8 348.8,423.0 349.6,422.3 350.4,420.0 351.2,422.0 352.0,425.0 353.2,418.0 354.0,409.0 355.2,415.0 356.4,406.0 357.6,395.0 358.8,410.0 360.0,407.0 361.2,414.0 362.4,412.0 363.6,419.0 365.0,421.0 366.4,423.0 367.2,422.3 368.0,420.0 369.2,427.0 370.4,422.0 371.6,414.0 373.0,423.0 374.4,426.0 375.2,424.6 376.0,424.0 376.8,427.4 377.6,429.0 379.0,428.0 380.0,418.0 380.8,417.9 381.6,417.0 383.0,413.0 384.4,412.0 385.2,413.0 386.0,414.0 386.8,412.5 387.6,411.0 389.0,409.0 390.0,407.0 390.8,408.3 391.6,409.0 393.0,407.0 394.4,412.0 395.2,415.7 396.0,419.0 396.8,417.6 397.6,417.0 399.0,422.0 400.0,414.0 401.0,407.0 402.4,405.0 403.6,408.0 405.0,409.0 406.0,416.0 406.8,416.9 407.6,419.0 409.0,423.0 410.4,424.0 411.6,432.0 412.8,437.0 414.0,431.0 415.2,438.0 416.4,442.0 417.2,441.0 418.0,440.0 418.8,441.4 419.6,441.0 421.0,447.0 422.4,449.0 423.2,447.7 424.0,446.0 424.8,447.2 425.6,450.0 427.0,454.0 428.0,461.0 429.0,455.0 430.0,462.0 430.8,464.1 431.6,465.0 433.0,467.0 434.4,464.0 435.2,463.0 436.0,461.0 436.8,463.3 437.6,464.0 439.0,466.0 440.4,469.0 441.2,466.0 442.0,478.0 442.4,490.0 442.4,502.0 443.6,494.0 445.0,490.0 446.0,488.9 447.0,489.0 448.4,492.0 449.2,497.5 450.0,502.0 450.8,507.6 451.6,515.0 453.0,512.0 454.4,506.0 455.2,504.3 456.0,502.0 456.8,500.5 457.6,500.0 459.0,505.0 460.4,510.0 461.2,512.0 462.0,515.0 463.0,531.0 464.4,529.0 465.2,527.3 466.0,524.0 466.8,524.2 467.6,526.0 469.0,520.0 470.0,519.5 471.0,519.0 472.4,525.0 473.6,528.0 475.0,522.0 476.4,512.0 477.2,510.2 478.0,507.0 478.8,503.5 479.6,501.0 480.4,500.4 481.2,501.0 482.4,510.0 483.6,518.0 485.0,525.0 486.4,522.0 487.2,523.8 488.0,524.0 488.8,521.8 489.6,520.0 491.0,528.0 492.4,533.0 493.2,531.9 494.0,530.0 494.8,527.6 495.6,527.0 497.0,530.0 498.0,530.2 499.0,531.0 500.4,537.0 501.2,537.8 502.0,540.0 502.8,542.8 503.6,545.0 504.6,544.7 505.6,546.0 506.6,544.9 507.6,542.0 509.0,541.0 510.4,549.0 511.2,549.6 512.0,552.0 512.8,553.5 513.6,554.0 515.0,549.0 516.0,546.5 517.0,546.0 518.4,548.0 519.6,540.0 521.0,539.0 522.4,535.0 523.2,536.0 524.0,538.0 524.8,537.1 525.6,535.0 527.0,536.0 528.4,533.0 529.2,532.8 530.0,534.0 530.8,534.9 531.6,537.0 533.0,530.0 533.6,527.0 534.8,535.0 535.6,537.4 536.4,539.0 537.2,542.3 538.0,546.0 538.8,543.1 539.6,542.0 541.0,536.0 542.4,543.0 543.2,545.0 544.0,545.0 544.8,543.3 545.6,543.0 546.6,543.6 547.6,546.0 548.6,544.7 549.6,544.0 550.6,545.2 551.6,546.0 553.0,550.0 554.4,555.0 555.2,556.0 556.0,556.0 557.0,553.2 558.0,552.0 558.8,549.7 559.6,548.0 560.6,546.6 561.6,547.0 562.6,546.4 563.6,546.0 564.6,546.0 565.6,545.0 566.4,548.0 567.2,550.0 568.0,549.8 568.8,548.0 570.0,551.0 570.8,549.0 571.6,546.0 572.4,544.7 573.2,542.0 574.0,544.4 574.8,546.0 575.6,547.9 576.4,550.0 577.2,551.0 578.0,553.0 578.8,552.8 579.6,552.0 581.0,556.0 582.0,556.6 583.0,558.0 584.0,558.7 585.0,561.0 586.0,559.4 587.0,558.0 588.0,557.7 589.0,556.0 590.0,553.0 591.0,546.0 592.4,544.0 593.2,545.8 594.0,549.0 594.8,552.7 595.6,556.0 597.0,565.0 598.4,570.0 599.2,568.8 600.0,568.0 600.8,566.0 601.6,564.0 603.0,563.0 604.4,568.0 605.2,564.3 606.0,562.0 606.8,559.4 607.6,555.0 609.0,554.0 610.0,562.0 610.8,564.0 611.6,567.0 613.0,563.0 614.4,557.0 615.2,555.2 616.0,553.0 616.8,549.3 617.6,546.0 618.4,546.5 619.2,549.0 620.0,547.6 620.8,546.0 622.0,551.0 622.8,553.3 623.6,557.0 624.4,558.6 625.2,562.0 626.1,562.6 627.0,565.0 628.0,563.8 629.0,564.0 630.0,564.7 631.0,567.0 632.0,568.3 633.0,569.0 634.0,567.5 635.0,566.0 635.8,565.0 636.6,562.0 637.5,564.4 638.4,565.0 639.2,565.5 640.0,564.0 641.0,565.0 642.0,567.0 643.0,566.4 644.0,566.0 644.8,567.0 645.6,569.0 646.6,568.2 647.6,567.0 648.6,566.7 649.6,566.0 650.6,567.6 651.6,568.0 652.6,567.4 653.6,566.0 654.6,566.0 655.6,567.0 656.6,566.3 657.6,566.0 658.6,566.6 659.6,567.0 660.4,564.5 661.2,564.0 662.0,564.6 662.8,567.0 664.0,564.0 665.2,568.0 666.4,574.0 667.2,575.6 668.0,577.6 669.0,576.5 670.0,577.0 671.0,577.7 672.0,577.6 672.8,575.3 673.6,574.0 675.0,568.0 676.0,560.0 677.0,551.0 678.4,560.0 679.6,557.0 681.0,561.0 682.4,563.0 683.2,560.2 684.0,559.0 685.2,554.0 686.4,551.0 687.6,555.0 689.0,562.0 690.4,557.0 691.2,555.4 692.0,555.0 693.2,559.0 694.0,559.0 694.8,560.0 696.0,566.0 696.8,568.4 697.6,572.0 698.4,571.5 699.2,571.0 700.0,572.4 700.8,574.0 701.6,574.6 702.4,576.0 703.2,576.8 704.0,577.0 704.8,573.9 705.6,572.0 706.4,570.3 707.2,567.0 708.0,569.9 708.8,571.0 709.6,572.5 710.4,573.0 711.2,571.4 712.0,570.0 713.2,556.0 714.4,555.0 715.6,559.0 717.0,548.0 718.4,550.0 719.2,551.0 720.0,552.0 721.2,544.0 722.4,536.0 723.6,532.0 724.0,521.0" fill="none" stroke="#000" stroke-width="1.9" stroke-linejoin="round"/>
<path d="M430.2 55.8h8V64.2H442.2L434.2 71.7L426.2 64.2H430.2z" fill="#0000ff"/>
<path d="M590.2 145h8V153H602.2L594.2 160.3L586.2 153H590.2z" fill="#0000ff"/>
<path d="M614.5 170.8L622.5 178.3H618.5V186.3h-8V178.3H606.5z" fill="#0000ff"/>
<path d="M146 507L154.0 515H150.0V522.4h-8V515H138.0z" fill="#0000ff"/>
<path d="M229 490.4L237.0 498H233.0V505.4h-8V498H221.0z" fill="#0000ff"/>
<path d="M400.0 391h8V399.4H412.0L404 407L396.0 399.4H400.0z" fill="#0000ff"/>
<path d="M615.0 524.4h8V532.4H627.0L619 539.6L611.0 532.4H615.0z" fill="#0000ff"/>
<path d="M720 563L728.0 570.4H724.0V578.6h-8V570.4H712.0z" fill="#0000ff"/>
<path d="M757.5 113L761.5 107.5H790.5V118.5H761.5z" fill="#fff" stroke="#000080" stroke-width="1"/>
<text x="762.4" y="117" font-size="10.5" font-weight="bold" stroke="#000" stroke-width="0.2" textLength="26.5" lengthAdjust="spacingAndGlyphs">56.40</text>
<path d="M757.5 149.5L761.5 144.5H790.5V154.5H761.5z" fill="#fff" stroke="#000" stroke-width="1"/>
<text x="762.4" y="153" font-size="10" stroke="#000" stroke-width="0.15" textLength="26.5" lengthAdjust="spacingAndGlyphs">51.43</text>
<path d="M757.5 521L761.5 515.5H784.5V526.5H761.5z" fill="#fff" stroke="#000" stroke-width="1"/>
<text x="762" y="525" font-size="10.5" font-weight="bold" stroke="#000" stroke-width="0.2" textLength="21.0" lengthAdjust="spacingAndGlyphs">0.14</text>
<path d="M757.5 561.5L761.5 556.5H784.5V566.5H761.5z" fill="#fff" stroke="#000080" stroke-width="1"/>
<text x="762" y="565" font-size="10" stroke="#000" stroke-width="0.15" textLength="20.1" lengthAdjust="spacingAndGlyphs">0.11</text>
<line x1="19.2" y1="35.8" x2="27.7" y2="35.8" stroke="#000080" stroke-width="2"/>
<text x="31.8" y="39.8" font-size="9.5" font-family="DejaVu Sans, Verdana, sans-serif" stroke="#000" stroke-width="0.3" textLength="193.3" lengthAdjust="spacing">$GOLD:UDN (Daily) 56.40 (11 Feb)</text>
<line x1="19.2" y1="46.7" x2="27.7" y2="46.7" stroke="#000" stroke-width="1.6" stroke-dasharray="1.6 1.6"/>
<text x="29.2" y="50.8" font-size="9.6" stroke="#000" stroke-width="0.3" textLength="63.8" lengthAdjust="spacingAndGlyphs">MA(400) 51.43</text>
<line x1="19.2" y1="320.8" x2="27.7" y2="320.8" stroke="#000" stroke-width="2"/>
<text x="31.8" y="325" font-size="9.5" font-family="DejaVu Sans, Verdana, sans-serif" stroke="#000" stroke-width="0.3" textLength="154.3" lengthAdjust="spacing">$GOLD:$NYSE 0.14 (11 Feb)</text>
<line x1="19.2" y1="332" x2="27.7" y2="332" stroke="#000080" stroke-width="1.6"/>
<text x="29.2" y="336" font-size="9.6" fill="#000080" stroke="#000080" stroke-width="0.3" textLength="58" lengthAdjust="spacingAndGlyphs">MA(400) 0.11</text>
<text x="448" y="53.7" font-size="19.3" font-weight="bold" fill="#0000ff" textLength="312.5" lengthAdjust="spacingAndGlyphs">Gold vs. Foreign Currency Basket</text>
<text x="569.6" y="356" font-size="19.3" font-weight="bold" fill="#0000ff" textLength="133.5" lengthAdjust="spacingAndGlyphs">Gold vs. NYSE</text>
<text x="17" y="14.5" font-size="14" font-weight="bold" stroke="#000" stroke-width="0.4" textLength="73" lengthAdjust="spacingAndGlyphs">$GOLD:UDN</text>
<text x="94.5" y="14" font-size="11" stroke="#000" stroke-width="0.3" textLength="342.5" lengthAdjust="spacingAndGlyphs">Gold - Spot Price (EOD)/PowerShares DB US Dollar Index Bearish Fund</text>
<text x="442.5" y="13.6" font-size="8.5" stroke="#000" stroke-width="0.3" textLength="52.5" lengthAdjust="spacingAndGlyphs">CME/NYSE</text>
<text x="669.4" y="14.1" font-size="9.3" font-family="DejaVu Sans, Verdana, sans-serif" fill="#505050" stroke="#505050" stroke-width="0.25">©</text>
<text x="680.2" y="14" font-size="10" font-family="DejaVu Sans, Verdana, sans-serif" fill="#505050" stroke="#505050" stroke-width="0.25" textLength="79" lengthAdjust="spacingAndGlyphs">StockCharts.com</text>
<text x="17" y="27.2" font-size="10" stroke="#000" stroke-width="0.3" textLength="58" lengthAdjust="spacingAndGlyphs">11-Feb-2016</text>
<text x="341" y="26.3" font-size="10.5" font-weight="bold" stroke="#000" stroke-width="0.2" textLength="28" lengthAdjust="spacingAndGlyphs">Open</text>
<text x="373.5" y="26.3" font-size="10.2" stroke="#000" stroke-width="0.2" textLength="25.5" lengthAdjust="spacingAndGlyphs">54.16</text>
<text x="405.75" y="26.3" font-size="10.5" font-weight="bold" stroke="#000" stroke-width="0.2" textLength="22.75" lengthAdjust="spacingAndGlyphs">High</text>
<text x="433" y="26.3" font-size="10.2" stroke="#000" stroke-width="0.2" textLength="25.75" lengthAdjust="spacingAndGlyphs">57.16</text>
<text x="466.25" y="26.3" font-size="10.5" font-weight="bold" stroke="#000" stroke-width="0.2" textLength="22.5" lengthAdjust="spacingAndGlyphs">Low</text>
<text x="493" y="26.3" font-size="10.2" stroke="#000" stroke-width="0.2" textLength="25.75" lengthAdjust="spacingAndGlyphs">54.11</text>
<text x="526.25" y="26.3" font-size="10.5" font-weight="bold" stroke="#000" stroke-width="0.2" textLength="30.0" lengthAdjust="spacingAndGlyphs">Close</text>
<text x="560.5" y="26.3" font-size="10.2" stroke="#000" stroke-width="0.2" textLength="26.5" lengthAdjust="spacingAndGlyphs">56.40</text>
<text x="594.25" y="26.3" font-size="10.5" font-weight="bold" stroke="#000" stroke-width="0.2" textLength="41.5" lengthAdjust="spacingAndGlyphs">Volume</text>
<text x="640" y="26.3" font-size="10.2" stroke="#000" stroke-width="0.2" textLength="5" lengthAdjust="spacingAndGlyphs">5</text>
<text x="652" y="26.3" font-size="10.5" font-weight="bold" stroke="#000" stroke-width="0.2" textLength="21" lengthAdjust="spacingAndGlyphs">Chg</text>
<text x="677.5" y="26.3" font-size="10.2" stroke="#000" stroke-width="0.2" textLength="72.0" lengthAdjust="spacingAndGlyphs">+2.12 (+3.91%)</text>
<path d="M751.8 25.9L755.4 22L759 25.9z" fill="#0a640a"/>
</svg>
</body></html>
